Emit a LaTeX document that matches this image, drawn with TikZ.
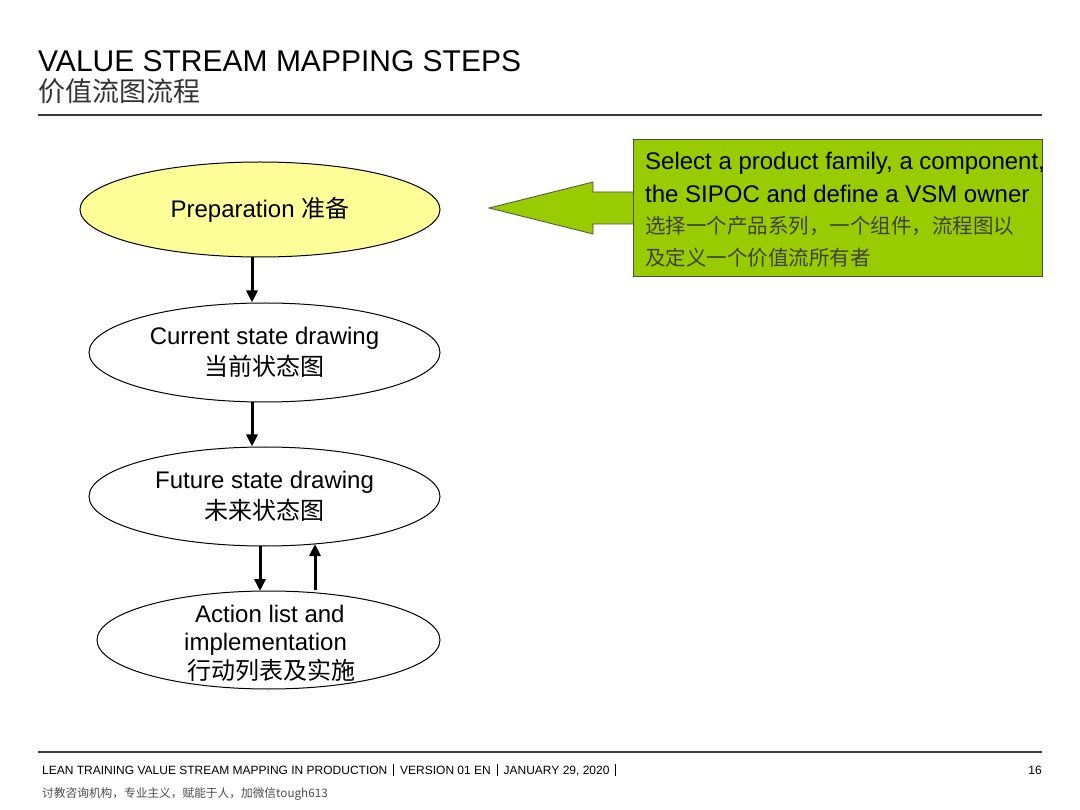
\documentclass[tikz,border=0pt]{standalone}
\usepackage{fontspec}
\setmainfont{Liberation Sans}
\newfontfamily\cjk{Noto Sans CJK SC}
\usetikzlibrary{shapes.geometric,arrows.meta}
\definecolor{prepyellow}{RGB}{255,255,153}
\definecolor{calloutgreen}{RGB}{153,204,0}
\definecolor{rulegray}{RGB}{60,60,60}
\newcommand{\footsep}{\hspace{6pt}\rule[-1.5pt]{0.8pt}{12pt}\hspace{6pt}}
\begin{document}
\begin{tikzpicture}[x=1pt,y=-1pt,
  stepell/.style={ellipse,draw=black,line width=1pt,inner sep=0pt,align=center,
    font=\fontsize{24}{31}\selectfont},
  flowarrow/.style={draw=black,line width=3pt,-{Triangle[length=12pt,width=11pt]}},
  boxtext/.style={anchor=base west,inner sep=0pt,font=\fontsize{24}{28}\selectfont},
  boxcjk/.style={anchor=base west,inner sep=0pt,font=\cjk\fontsize{20.5}{24}\selectfont,text=black!75},
  linetext/.style={anchor=base west,inner sep=0pt,font=\fontsize{24}{28}\selectfont}
]
\useasboundingbox (0,0) rectangle (1080,810);
\fill[white] (0,0) rectangle (1080,810);

% header
\node[anchor=base west,inner sep=0pt,font=\fontsize{30}{33}\selectfont] (title) at (38,72) {VALUE STREAM MAPPING STEPS};
\node[anchor=base west,inner sep=0pt,font=\cjk\fontsize{27}{30}\selectfont,text=black!80] (subtitle) at (38,102) {价值流图流程};
\draw[rulegray,line width=2pt] (38,115) -- (1042,115);

% flow ellipses
\node[stepell,fill=prepyellow,minimum width=360pt,minimum height=95pt] (prep) at (260,209.5) {Preparation {\cjk 准备}};
\node[stepell,fill=white,minimum width=351pt,minimum height=99pt] (cur) at (264.5,352.5) {Current state drawing\\{\cjk 当前状态图}};
\node[stepell,fill=white,minimum width=351pt,minimum height=99pt] (fut) at (264.5,496.5) {Future state drawing\\{\cjk 未来状态图}};
\node[stepell,fill=white,minimum width=343pt,minimum height=98pt] (act) at (268.5,640) {};
\node[linetext] (act1) at (195,622) {Action list and};
\node[linetext] (act2) at (184,650) {implementation};
\node[linetext,font=\cjk\fontsize{24}{28}\selectfont] (act3) at (187,679) {行动列表及实施};

% connectors
\draw[flowarrow] (prep.south -| 252,0) -- (cur.north -| 252,0);
\draw[flowarrow] (cur.south -| 252,0) -- (fut.north -| 252,0);
\draw[flowarrow] (260,546) -- (260,591);
\draw[flowarrow] (315,590) -- (315,544);

% callout
\coordinate (tip) at (489,208);
\draw[fill=calloutgreen,draw=black!70,line width=0.8pt]
  (633,192) -- (593,192) -- (593,182) -- (tip) -- (593,234) -- (593,224) -- (633,224);
\node[draw=black!70,fill=calloutgreen,line width=0.8pt,minimum width=409pt,minimum height=137pt,inner sep=0pt] (callout) at (837.5,207.5) {};
\node[boxtext] (l1) at (645,170) {Select a product family, a component,};
\node[boxtext] (l2) at (645,203) {the SIPOC and define a VSM owner};
\node[boxcjk] (l3) at (645,234) {选择一个产品系列，一个组件，流程图以};
\node[boxcjk] (l4) at (645,266) {及定义一个价值流所有者};

% footer
\draw[rulegray,line width=2pt] (38,752) -- (1042,752);
\node[anchor=base west,inner sep=0pt,font=\fontsize{12}{14}\selectfont] (foot) at (42,774) {LEAN TRAINING VALUE STREAM MAPPING IN PRODUCTION\footsep VERSION 01 EN\footsep JANUARY 29, 2020\footsep};
\node[anchor=base east,inner sep=0pt,font=\fontsize{12}{14}\selectfont] (page) at (1042,774) {16};
\node[anchor=base west,inner sep=0pt,font=\cjk\fontsize{11.7}{13}\selectfont,text=black!70] (wm) at (42,797) {讨教咨询机构，专业主义，赋能于人，加微信tough613};
\end{tikzpicture}
\end{document}
